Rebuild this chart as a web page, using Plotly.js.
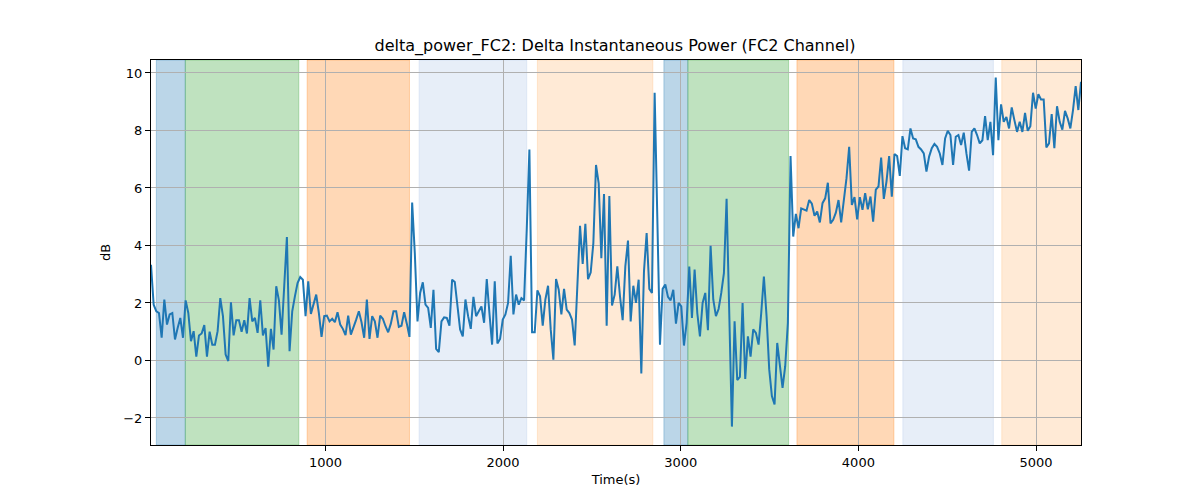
<!DOCTYPE html>
<html>
<head>
<meta charset="utf-8">
<script src="https://cdn.plot.ly/plotly-3.0.1.min.js"></script>
<style>
  body { margin: 0; background: #fff; }
  #chart { width: 1200px; height: 500px; }
</style>
</head>
<body>
<div id="chart"></div>
<script>
/* sampling of the FC2 delta power trace */
const t0 = 18;
const dt = 15;

const deltaPower = [
  3.33, 1.94, 1.71, 1.65, 0.79, 2.12, 1.25, 1.6, 1.65, 0.73,
  1.13, 1.48, 0.79, 2.09, 1.65, 0.67, 1.02, 0.13, 0.87, 0.94,
  1.23, 0.13, 1.0, 0.55, 0.55, 1.02, 2.17, 1.54, 0.21, -0.02,
  2.02, 0.87, 1.4, 1.4, 1.0, 1.4, 0.94, 2.17, 1.36, 1.48,
  0.96, 2.09, 0.87, 1.13, -0.22, 1.1, 0.38, 2.58, 2.09, 0.9,
  2.6, 4.29, 0.32, 1.71, 2.23, 2.69, 2.9, 2.81, 1.54, 2.75,
  1.62, 1.94, 2.29, 1.65, 0.82, 1.54, 1.56, 1.36, 1.45, 1.33,
  1.68, 1.25, 1.1, 0.88, 1.56, 0.9, 1.13, 1.42, 1.71, 1.33,
  0.79, 2.12, 0.75, 1.54, 1.36, 0.79, 1.56, 1.45, 1.19, 0.98,
  1.28, 1.71, 1.71, 1.17, 1.21, 1.68, 1.28, 0.82, 5.49, 3.73,
  1.36, 2.35, 2.72, 1.94, 1.83, 1.13, 2.46, 0.4, 0.29, 1.36,
  1.5, 1.48, 1.21, 2.81, 2.73, 2.0, 1.08,
  // 1500 - 3100 s
  0.84, 2.12, 1.54, 1.1, 2.21, 1.54, 1.71, 1.88, 1.31, 2.83,
  1.65, 0.55, 2.75, 0.59, 0.75, 1.42, 1.6, 2.0, 3.64, 1.6,
  2.29, 1.94, 2.17, 2.09, 4.54, 7.34, 0.98, 0.98, 2.44, 2.23,
  1.21, 2.12, 2.6, 1.08, 0.03, 2.83, 2.46, 1.6, 2.49, 1.77,
  1.65, 1.42, 0.52, 2.92, 4.68, 3.36, 4.75, 2.83, 3.06, 4.08,
  6.8, 6.16, 3.56, 5.79, 1.21, 5.72, 1.91, 2.29, 3.27, 2.23,
  1.4, 3.27, 4.17, 1.36, 2.6, 2.0, 2.81, -0.45, 3.1, 4.43,
  2.49, 2.35, 9.31, 5.0, 0.55, 2.49, 2.64, 2.21, 2.09, 2.46,
  1.28, 2.0, 1.88, 0.52, 1.31, 3.27, 1.48, 3.16, 1.65, 0.84,
  2.0, 2.35, 1.05, 3.99, 2.12, 1.54, 1.79, 2.35, 3.04, 5.62,
  2.06, -2.3, 1.36, -0.68, -0.57, 2.0, -0.64, 0.84, 0.13, 1.08,
  0.96, 0.55, 1.65, 2.92,
  // 3200 s - end
  1.54, -0.31, -1.24, -1.53, 0.61, -0.08, -0.95, -0.2, 1.31, 7.11,
  4.31, 5.1, 4.6, 5.29, 5.24, 5.21, 5.58, 5.45, 5.03, 5.18,
  4.8, 5.47, 5.64, 6.18, 4.77, 4.89, 5.14, 5.58, 4.8, 5.64,
  6.34, 7.43, 5.41, 5.68, 4.91, 5.68, 5.24, 5.82, 5.26, 5.7,
  4.83, 5.94, 6.05, 7.06, 5.62, 6.22, 7.11, 5.7, 7.18, 7.11,
  6.42, 7.8, 7.38, 7.34, 8.07, 7.72, 7.69, 7.43, 7.34, 7.2,
  6.57, 7.09, 7.38, 7.53, 7.43, 7.2, 6.8, 7.72, 7.99, 7.84,
  6.8, 7.78, 7.84, 7.49, 7.92, 7.2, 6.6, 7.95, 8.07, 7.84,
  7.55, 7.66, 8.5, 7.66, 8.3, 7.14, 9.84, 7.66, 8.91, 8.3,
  8.47, 8.07, 8.8, 8.36, 7.95, 8.3, 7.95, 8.61, 7.99, 8.15,
  9.31, 8.76, 9.26, 9.08, 9.08, 7.41, 7.55, 8.57, 7.38, 8.84,
  8.3, 8.03, 8.68, 8.42, 8.07, 8.71, 9.54, 8.71, 9.69,
];

const timeSec = deltaPower.map((_, i) => t0 + i * dt);

/* stage intervals shaded behind the trace */
const stageStart = [48, 211, 897, 1527, 2193, 2905, 3040, 3654, 4250, 4807];
const stageEnd = [211, 850, 1473, 2133, 2843, 3040, 3607, 4200, 4760, 5300];
const stageKind = ["a", "b", "c", "d", "e", "a", "b", "c", "d", "e"];

const kindColor = {
  a: "31,119,180",
  b: "44,160,44",
  c: "255,127,14",
  d: "174,199,232",
  e: "255,187,120",
};

const shapes = stageStart.map((s, i) => ({
  type: "rect",
  xref: "x",
  yref: "paper",
  x0: s,
  x1: stageEnd[i],
  y0: 0,
  y1: 1,
  layer: "below",
  fillcolor: `rgba(${kindColor[stageKind[i]]},0.3)`,
  line: { color: `rgba(${kindColor[stageKind[i]]},0.3)`, width: 1 },
}));

const data = [
  {
    x: timeSec,
    y: deltaPower,
    type: "scatter",
    mode: "lines",
    line: { color: "#1f77b4", width: 2 },
    hoverinfo: "x+y",
  },
];

const axisStyle = {
  showline: true,
  mirror: true,
  linecolor: "black",
  linewidth: 1,
  ticks: "outside",
  ticklen: 5,
  tickcolor: "black",
  showgrid: true,
  gridcolor: "#b0b0b0",
  gridwidth: 0.8,
  zeroline: false,
  tickfont: { family: "DejaVu Sans", size: 13, color: "black" },
};

const layout = {
  width: 1200,
  height: 500,
  margin: { l: 151, r: 119, t: 60, b: 55 },
  paper_bgcolor: "white",
  plot_bgcolor: "white",
  showlegend: false,
  font: { family: "DejaVu Sans", color: "black" },
  title: {
    text: "delta_power_FC2: Delta Instantaneous Power (FC2 Channel)",
    font: { family: "DejaVu Sans", size: 16, color: "black" },
    x: 0.5125,
    xanchor: "center",
    y: 0.898,
    yanchor: "bottom",
  },
  xaxis: {
    ...axisStyle,
    range: [t0, t0 + (deltaPower.length - 1) * dt],
    tickvals: [1000, 2000, 3000, 4000, 5000],
    title: { text: "Time(s)", font: { family: "DejaVu Sans", size: 13 }, standoff: 6 },
  },
  yaxis: {
    ...axisStyle,
    range: [-2.94, 10.45],
    tickvals: [-2, 0, 2, 4, 6, 8, 10],
    title: { text: "dB", font: { family: "DejaVu Sans", size: 13 }, standoff: 9 },
  },
  shapes: shapes,
};

Plotly.newPlot("chart", data, layout, { displayModeBar: false, responsive: false });
</script>
</body>
</html>
